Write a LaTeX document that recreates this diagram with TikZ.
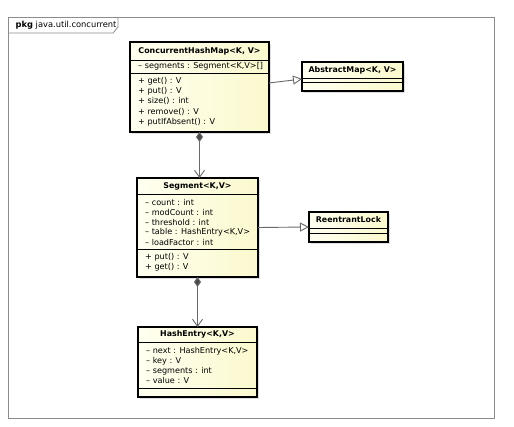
\documentclass[tikz,border=0pt]{standalone}
\usepackage{fontspec}
\setmainfont{DejaVu Sans}
\usetikzlibrary{arrows.meta,calc,shadows}
\definecolor{boxL}{RGB}{255,255,240}
\definecolor{boxR}{RGB}{251,249,206}
\definecolor{conn}{RGB}{105,105,105}
\definecolor{framec}{RGB}{140,140,140}
\begin{document}
\begin{tikzpicture}[x=1pt,y=-1pt,
  umlbox/.style={draw=black, line width=1.5pt, left color=boxL, right color=boxR,
    drop shadow={shadow xshift=2pt,shadow yshift=-2pt,opacity=0.25},
    inner sep=0pt, outer sep=0pt},
  divider/.style={draw=black, line width=0.7pt},
  hdr/.style={font=\fontsize{7.9}{9}\selectfont\bfseries, inner sep=0pt},
  attr/.style={font=\fontsize{8.1}{9}\selectfont, anchor=west, inner sep=0pt},
  conline/.style={draw=conn, line width=0.9pt},
  gen/.style={conline, -{Triangle[open,length=9pt,width=9pt,fill=white]}},
  comp/.style={conline, {Diamond[length=10pt,width=7pt,fill=conn!70!black]}-{Straight Barb[length=7pt,width=10pt]}}
]
\useasboundingbox (0,0) rectangle (514,427);
\fill[white] (0,0) rectangle (514,427);
% frame and tab
\draw[framec, line width=0.8pt] (8,17) rectangle (494,418);
\draw[framec, line width=0.8pt] (8,33) -- (113,33) -- (118,27) -- (118,17);
\node[anchor=west, inner sep=0pt, font=\fontsize{8.3}{9}\selectfont] (pkg) at (15.5,25) {\textbf{pkg} java.util.concurrent};

% ConcurrentHashMap
\node[umlbox, minimum width=139pt, minimum height=90pt] (chm) at (199.5,87) {};
\node[hdr] (chmh) at ($(chm.north)+(0,9)$) {ConcurrentHashMap<K, V>};
\draw[divider] ($(chm.north west)+(0,18)$) -- ($(chm.north east)+(0,18)$);
\node[attr] (chma1) at ($(chm.north west)+(8,24)$) {– segments : Segment<K,V>[]};
\draw[divider] ($(chm.north west)+(0,31)$) -- ($(chm.north east)+(0,31)$);
\node[attr] (chmo1) at ($(chm.north west)+(8,39)$) {+ get() : V};
\node[attr] (chmo2) at ($(chm.north west)+(8,49.2)$) {+ put() : V};
\node[attr] (chmo3) at ($(chm.north west)+(8,59.4)$) {+ size() : int};
\node[attr] (chmo4) at ($(chm.north west)+(8,69.6)$) {+ remove() : V};
\node[attr] (chmo5) at ($(chm.north west)+(8,79.8)$) {+ putIfAbsent() : V};

% AbstractMap
\node[umlbox, minimum width=101pt, minimum height=29pt] (abs) at (352.5,76.5) {};
\node[hdr] (absh) at ($(abs.north)+(0,8)$) {AbstractMap<K, V>};
\draw[divider] ($(abs.north west)+(0,16)$) -- ($(abs.north east)+(0,16)$);
\draw[divider] ($(abs.north west)+(0,20)$) -- ($(abs.north east)+(0,20)$);

% Segment
\node[umlbox, minimum width=121pt, minimum height=99pt] (seg) at (197.5,227.5) {};
\node[hdr] (segh) at ($(seg.north)+(0,8)$) {Segment<K,V>};
\draw[divider] ($(seg.north west)+(0,16)$) -- ($(seg.north east)+(0,16)$);
\node[attr] (sega1) at ($(seg.north west)+(8,24)$) {– count : int};
\node[attr] (sega2) at ($(seg.north west)+(8,34)$) {– modCount : int};
\node[attr] (sega3) at ($(seg.north west)+(8,44)$) {– threshold : int};
\node[attr] (sega4) at ($(seg.north west)+(8,54)$) {– table : HashEntry<K,V>};
\node[attr] (sega5) at ($(seg.north west)+(8,64)$) {– loadFactor : int};
\draw[divider] ($(seg.north west)+(0,71)$) -- ($(seg.north east)+(0,71)$);
\node[attr] (sego1) at ($(seg.north west)+(8,79)$) {+ put() : V};
\node[attr] (sego2) at ($(seg.north west)+(8,89)$) {+ get() : V};

% ReentrantLock
\node[umlbox, minimum width=79pt, minimum height=30pt] (lock) at (348.5,227) {};
\node[hdr] (lockh) at ($(lock.north)+(0,8)$) {ReentrantLock};
\draw[divider] ($(lock.north west)+(0,16)$) -- ($(lock.north east)+(0,16)$);
\draw[divider] ($(lock.north west)+(0,21)$) -- ($(lock.north east)+(0,21)$);

% HashEntry
\node[umlbox, minimum width=119pt, minimum height=70pt] (he) at (197.5,362) {};
\node[hdr] (heh) at ($(he.north)+(0,7.5)$) {HashEntry<K,V>};
\draw[divider] ($(he.north west)+(0,15)$) -- ($(he.north east)+(0,15)$);
\node[attr] (hea1) at ($(he.north west)+(8,24)$) {– next : HashEntry<K,V>};
\node[attr] (hea2) at ($(he.north west)+(8,34)$) {– key : V};
\node[attr] (hea3) at ($(he.north west)+(8,44)$) {– segments : int};
\node[attr] (hea4) at ($(he.north west)+(8,53)$) {– value : V};
\draw[divider] ($(he.north west)+(0,61)$) -- ($(he.north east)+(0,61)$);

% connectors
\draw[gen] ([yshift=4pt]chm.east) -- ([yshift=-2.5pt]abs.west);
\draw[gen] (seg.east) -- (lock.west);
\draw[comp] (chm.south) -- (seg.north -| chm.south);
\draw[comp] (seg.south) -- (he.north);
\end{tikzpicture}
\end{document}
